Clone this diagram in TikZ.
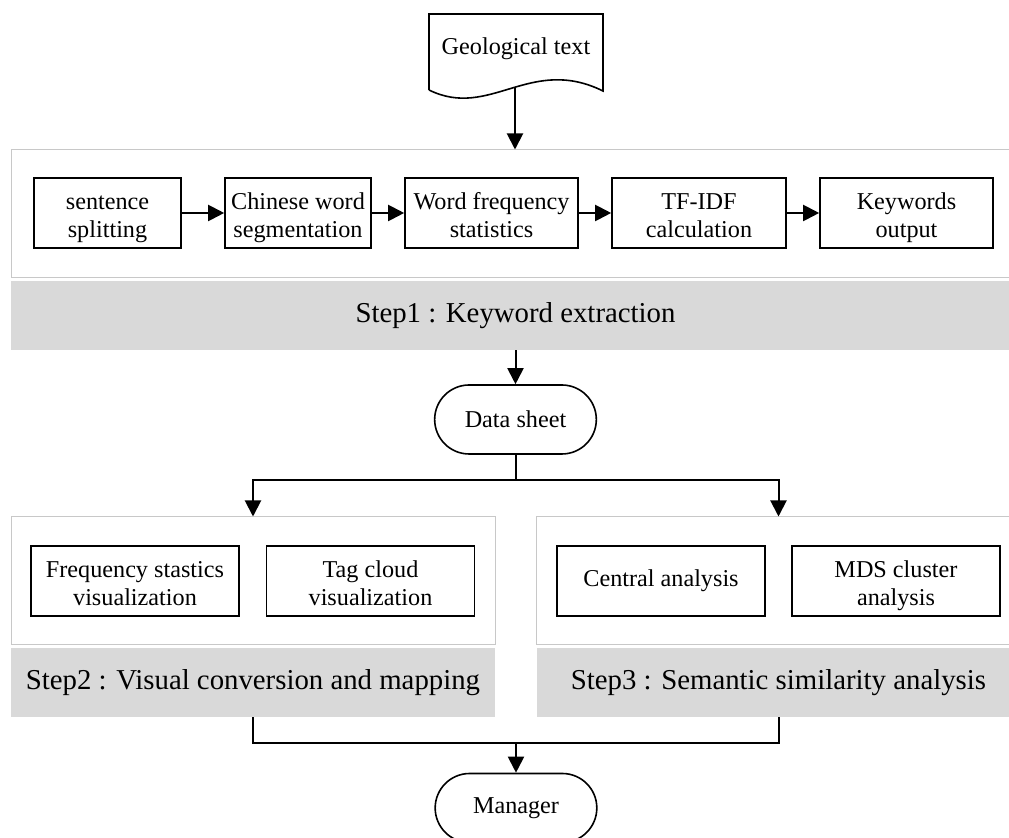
\documentclass[tikz,border=0pt]{standalone}
\usepackage{fontspec}
\setmainfont{Liberation Serif}
\usepackage{tikz}
\usetikzlibrary{
  arrows.meta,
  positioning,
  shapes.misc
}
\definecolor{bandgray}{RGB}{217, 217, 217}
\definecolor{panelgray}{RGB}{200, 200, 200}

\begin{document}
\begin{tikzpicture}[
  x=0.5pt, y=-0.5pt,
  box/.style={draw, line width=0.8pt, fill=white, align=center, minimum height=35pt, inner sep=1pt, font=\fontsize{12.1}{14}\selectfont},
  twoline/.style={text height=28pt, text depth=3pt},
  panel/.style={draw=panelgray, line width=0.5pt, fill=white, minimum height=64pt},
  band/.style={fill=bandgray, minimum height=34.5pt, font=\fontsize{14.4}{17}\selectfont},
  term/.style={rounded rectangle, draw, line width=0.8pt, minimum width=87.5pt, minimum height=34.5pt, font=\fontsize{12.1}{14}\selectfont},
  arr/.style={-{Triangle[length=8pt, width=8pt]}, line width=1pt},
  lnk/.style={line width=1pt}
]
\useasboundingbox (0,0) rectangle (1009,838);

% input document
\draw[line width=0.8pt] (429,90) -- (429,14) -- (603,14) -- (603,91)
  .. controls (530,55) and (490,120) .. (429,90);
\node[font=\fontsize{12.1}{14}\selectfont] (geo) at (516,49) {Geological text};
\coordinate (geobot) at (515,88);

% step 1
\node[panel, minimum width=504.5pt] (panelone) at (515.5,214) {};
\node[band, minimum width=504.5pt] (bandone) at (515.5,315.5) {Step1 : Keyword extraction};

\node[box, twoline, minimum width=73.5pt] (split) at (107.5,213) {sentence\\splitting};
\node[box, twoline, minimum width=73pt] (seg) at (298,213) {Chinese word\\segmentation};
\node[box, twoline, minimum width=86.5pt] (freq) at (491.5,213) {Word frequency\\statistics};
\node[box, twoline, minimum width=87pt] (tfidf) at (699,213) {TF-IDF\\calculation};
\node[box, twoline, minimum width=86.5pt] (kwout) at (906.5,213) {Keywords\\output};

\draw[arr] (split) -- (seg);
\draw[arr] (seg) -- (freq);
\draw[arr] (freq) -- (tfidf);
\draw[arr] (tfidf) -- (kwout);

\draw[arr] (geobot) -- (geobot |- panelone.north);

% data sheet
\node[term] (data) at (515.5,419.5) {Data sheet};
\draw[arr] (data |- bandone.south) -- (data.north);

% step 2 and step 3
\node[panel, minimum width=242pt] (paneltwo) at (253,581) {};
\node[band, minimum width=242pt] (bandtwo) at (253,682.5) {Step2 : Visual conversion and mapping};
\node[panel, minimum width=242pt] (panelthree) at (778.5,581) {};
\node[band, minimum width=242pt] (bandthree) at (778.5,682.5) {Step3 : Semantic similarity analysis};

\node[box, twoline, minimum width=104pt] (fsv) at (135,581) {Frequency stastics\\visualization};
\node[box, twoline, minimum width=104pt] (tcv) at (370.5,581) {Tag cloud\\visualization};
\node[box, minimum width=104pt] (cen) at (661,581) {Central analysis};
\node[box, twoline, minimum width=104pt] (mds) at (896,581) {MDS cluster\\analysis};

\coordinate (fork) at (515.5,480);
\draw[lnk] (data.south) -- (fork);
\draw[arr] (fork) -| (paneltwo.north);
\draw[arr] (fork) -| (panelthree.north);

% manager
\node[term] (mgr) at (516,808) {Manager};
\coordinate (join) at (516,743);
\draw[lnk] (bandtwo.south) |- (join) -| (bandthree.south);
\draw[arr] (join) -- (mgr.north);

\end{tikzpicture}
\end{document}
